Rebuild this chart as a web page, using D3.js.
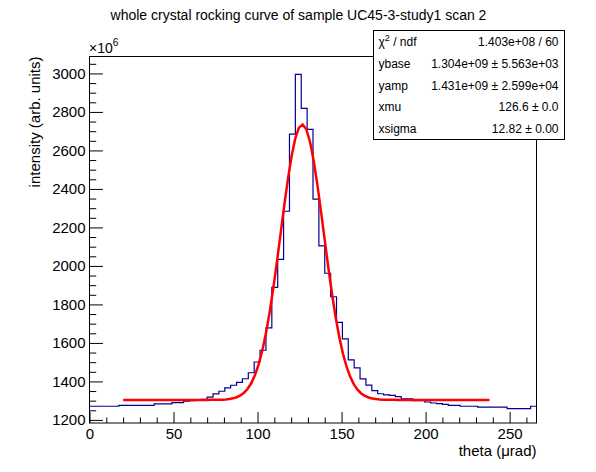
<!DOCTYPE html>
<html>
<head>
<meta charset="utf-8">
<script src="https://cdn.jsdelivr.net/npm/d3@7"></script>
<style>
  body { margin: 0; background: #fff; }
  svg { display: block; font-family: "Liberation Sans", Arial, Helvetica, sans-serif; }
  .tick text { font-size: 15px; fill: #000; }
  .tick line { stroke: #000; }
</style>
</head>
<body>
<svg id="chart" width="596" height="472"></svg>
<script>
  // histogram: 76 bins of 3.5 urad, counts in units of 1e6
  const binWidth = 3.5;
  const xDomain = [0, 266];
  const yDomain = [1184, 3088];
  const counts = [
    1271, 1271, 1271, 1271, 1271, 1276, 1276, 1276, 1276, 1276,
    1276, 1283, 1283, 1283, 1290, 1290, 1297, 1300, 1302, 1307,
    1318, 1335, 1349, 1366, 1380, 1395, 1414, 1445, 1501, 1562,
    1678, 1889, 2034, 2284, 2685, 2995, 2818, 2709, 2347, 2104,
    1962, 1840, 1707, 1621, 1512, 1470, 1413, 1381, 1352, 1336,
    1330, 1328, 1321, 1309, 1309, 1300, 1300, 1293, 1288, 1285,
    1281, 1276, 1276, 1271, 1271, 1271, 1266, 1266, 1266, 1266,
    1266, 1259, 1259, 1259, 1259, 1271
  ];

  // fitted function (values from the stat box), drawn over fit range
  const fitRange = [20, 238];
  const fitNpx = 100;
  const ybase = 1.304e9, yamp = 1.431e9, xmu = 126.6, xsigma = 12.82;

  const xMajor = [0, 50, 100, 150, 200, 250];
  const yMajor = [1200, 1400, 1600, 1800, 2000, 2200, 2400, 2600, 2800, 3000];

  const statLabels = ['ndf', 'ybase', 'yamp', 'xmu', 'xsigma'];
  const statValues = ['1.403e+08 / 60', '1.304e+09 \u00b1 5.563e+03', '1.431e+09 \u00b1 2.599e+04',
                      '126.6 \u00b1 0.0', '12.82 \u00b1 0.00'];

  const title = 'whole crystal rocking curve of sample UC45-3-study1 scan 2';
  const xTitle = 'theta (\u03bcrad)';
  const yTitle = 'intensity (arb. units)';

  const frame = {left: 89.5, right: 536.5, top: 56.5, bottom: 423};
  const svg = d3.select('#chart');

  const x = d3.scaleLinear().domain(xDomain).range([frame.left, frame.right]);
  const y = d3.scaleLinear().domain(yDomain).range([frame.bottom, frame.top]);

  const frameW = frame.right - frame.left;
  const frameH = frame.bottom - frame.top;

  // axes, ticks pointing inside the frame like ROOT
  const xMinor = d3.range(0, 261, 10).filter(v => v % 50 !== 0);
  const yMinor = d3.range(1200, 3051, 50).filter(v => v % 200 !== 0);

  const xAxisG = svg.append('g').attr('transform', `translate(0,${frame.bottom})`);
  xAxisG.call(d3.axisBottom(x).tickValues(xMinor).tickSize(-0.015 * frameH).tickFormat(''));
  xAxisG.call(g => g.select('.domain').remove());
  const xAxisMaj = svg.append('g').attr('transform', `translate(0,${frame.bottom})`);
  xAxisMaj.call(d3.axisBottom(x).tickValues(xMajor).tickSize(-0.03 * frameH).tickPadding(5)
    .tickFormat(d3.format('d')));
  xAxisMaj.call(g => g.select('.domain').remove());

  const yAxisG = svg.append('g').attr('transform', `translate(${frame.left},0)`);
  yAxisG.call(d3.axisLeft(y).tickValues(yMinor).tickSize(-0.015 * frameW).tickFormat(''));
  yAxisG.call(g => g.select('.domain').remove());
  const yAxisMaj = svg.append('g').attr('transform', `translate(${frame.left},0)`);
  yAxisMaj.call(d3.axisLeft(y).tickValues(yMajor).tickSize(-0.03 * frameW).tickPadding(4)
    .tickFormat(d3.format('d')));
  yAxisMaj.call(g => g.select('.domain').remove());

  svg.selectAll('g').attr('font-family', null).attr('font-size', null);

  // histogram outline
  const steps = [];
  counts.forEach((c, i) => {
    steps.push([i * binWidth, c]);
    steps.push([(i + 1) * binWidth, c]);
  });
  svg.append('path')
    .datum(steps)
    .attr('fill', 'none')
    .attr('stroke', '#000099')
    .attr('stroke-width', 1.2)
    .attr('d', d3.line().x(d => x(d[0])).y(d => y(d[1])));

  // fit curve
  const fitX = d3.range(fitNpx + 1).map(i => fitRange[0] + i * (fitRange[1] - fitRange[0]) / fitNpx);
  const fitPts = fitX.map(v => [v, (ybase + yamp * Math.exp(-0.5 * Math.pow((v - xmu) / xsigma, 2))) / 1e6]);
  svg.append('path')
    .datum(fitPts)
    .attr('fill', 'none')
    .attr('stroke', '#ff0000')
    .attr('stroke-width', 2.5)
    .attr('d', d3.line().x(d => x(d[0])).y(d => y(d[1])));

  // frame
  svg.append('rect')
    .attr('x', frame.left).attr('y', frame.top)
    .attr('width', frameW).attr('height', frameH)
    .attr('fill', 'none').attr('stroke', '#000').attr('stroke-width', 1);

  // exponent label
  const expo = svg.append('text').attr('x', 89).attr('y', 53).attr('font-size', 14);
  expo.append('tspan').text('\u00d710');
  expo.append('tspan').attr('font-size', 10).attr('dy', -7).text('6');

  // titles
  svg.append('text')
    .attr('x', 298.5).attr('y', 20)
    .attr('text-anchor', 'middle')
    .attr('font-size', 14)
    .text(title);

  svg.append('text')
    .attr('x', frame.right).attr('y', 456)
    .attr('text-anchor', 'end')
    .attr('font-size', 15)
    .text(xTitle);

  svg.append('text')
    .attr('transform', `translate(40,${frame.top}) rotate(-90)`)
    .attr('text-anchor', 'end')
    .attr('font-size', 15)
    .text(yTitle);

  // stat box
  const box = {x: 373.5, y: 30.5, w: 191, h: 109};
  svg.append('rect')
    .attr('x', box.x).attr('y', box.y).attr('width', box.w).attr('height', box.h)
    .attr('fill', '#fff').attr('stroke', '#000').attr('stroke-width', 1);

  const rowH = box.h / statLabels.length;
  statLabels.forEach((lab, i) => {
    const cy = box.y + rowH * (i + 0.5) + 4.5;
    const t = svg.append('text').attr('x', box.x + 5).attr('y', cy).attr('font-size', 12);
    if (i === 0) {
      t.append('tspan').text('\u03c7');
      t.append('tspan').attr('font-size', 9).attr('dy', -5).text('2');
      t.append('tspan').attr('dy', 5).text(' / ' + lab);
    } else {
      t.text(lab);
    }
    svg.append('text')
      .attr('x', box.x + box.w - 6).attr('y', cy)
      .attr('text-anchor', 'end')
      .attr('font-size', 12)
      .text(statValues[i]);
  });
</script>
</body>
</html>
